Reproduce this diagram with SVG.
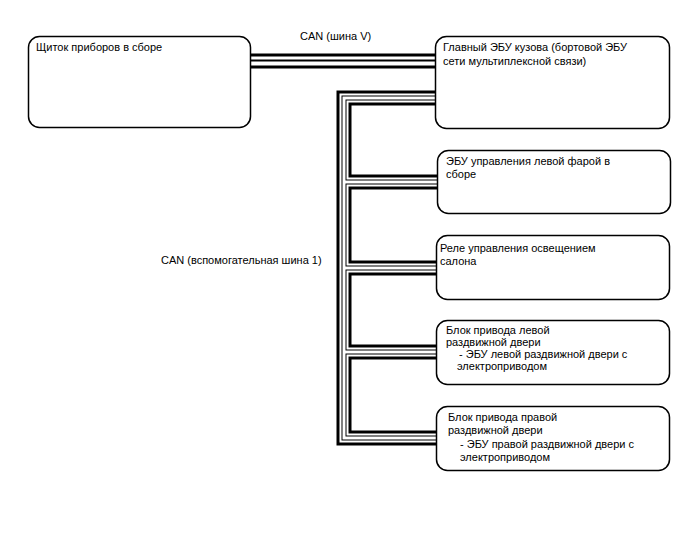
<svg xmlns="http://www.w3.org/2000/svg" xmlns:xlink="http://www.w3.org/1999/xlink" width="688" height="560" viewBox="0 0 688 560">
<style>
text { font-family: "Liberation Sans", Arial, sans-serif; font-size: 11px; fill: #000; }
.box { fill: #fff; stroke: #000; stroke-width: 1.5; }
.w1 { fill: none; stroke: #000; stroke-width: 15; stroke-linejoin: miter; stroke-linecap: butt; }
.w2 { fill: none; stroke: #fff; stroke-width: 9; stroke-linejoin: miter; stroke-linecap: butt; }
.w3 { fill: none; stroke: #000; stroke-width: 5; stroke-linejoin: miter; stroke-linecap: butt; }
.w4 { fill: none; stroke: #fff; stroke-width: 3; stroke-linejoin: miter; stroke-linecap: butt; }
.c3 { fill: none; stroke: #000; stroke-width: 2; }
</style>
<defs>
<path id="bus" d="M435,98 H344 V438 H436 M344,182 H437 M344,268 H436 M344,352 H436"/>
<path id="canv" d="M250,61 H435"/>
</defs>
<rect width="688" height="560" fill="#fff"/>
<g id="connectors">
<use xlink:href="#bus" class="w1"/>
<use xlink:href="#bus" class="w2"/>
<use xlink:href="#bus" class="w3"/>
<use xlink:href="#bus" class="w4"/>
<use xlink:href="#canv" class="w1"/>
<use xlink:href="#canv" class="w2"/>
<path d="M250,60.5 H435" class="c3"/>
</g>
<g id="label-can-v"><text x="300" y="40">CAN (шина V)</text></g>
<g id="label-can-1"><text x="161" y="264">CAN (вспомогательная шина 1)</text></g>
<g id="node-cluster">
<rect class="box" x="28.5" y="36.5" width="222" height="91" rx="11"/>
<text x="36" y="51">Щиток приборов в сборе</text>
</g>
<g id="node-main-ecu">
<rect class="box" x="435.5" y="36.5" width="234" height="92" rx="11"/>
<text x="443" y="51">Главный ЭБУ кузова (бортовой ЭБУ</text>
<text x="443" y="65">сети мультиплексной связи)</text>
</g>
<g id="node-headlight">
<rect class="box" x="437.5" y="150.5" width="233" height="63" rx="11"/>
<text x="446" y="165">ЭБУ управления левой фарой в</text>
<text x="446" y="178">сборе</text>
</g>
<g id="node-relay">
<rect class="box" x="436.5" y="235.5" width="233" height="64" rx="11"/>
<text x="440" y="252">Реле управления освещением</text>
<text x="440" y="265">салона</text>
</g>
<g id="node-left-door">
<rect class="box" x="436.5" y="320.5" width="233" height="64" rx="11"/>
<text x="446" y="334">Блок привода левой</text>
<text x="446" y="346">раздвижной двери</text>
<text x="459" y="358">- ЭБУ левой раздвижной двери с</text>
<text x="457" y="370">электроприводом</text>
</g>
<g id="node-right-door">
<rect class="box" x="436.5" y="406.5" width="233" height="64" rx="11"/>
<text x="448" y="421">Блок привода правой</text>
<text x="448" y="434">раздвижной двери</text>
<text x="460" y="448">- ЭБУ правой раздвижной двери с</text>
<text x="460" y="461">электроприводом</text>
</g>
</svg>
